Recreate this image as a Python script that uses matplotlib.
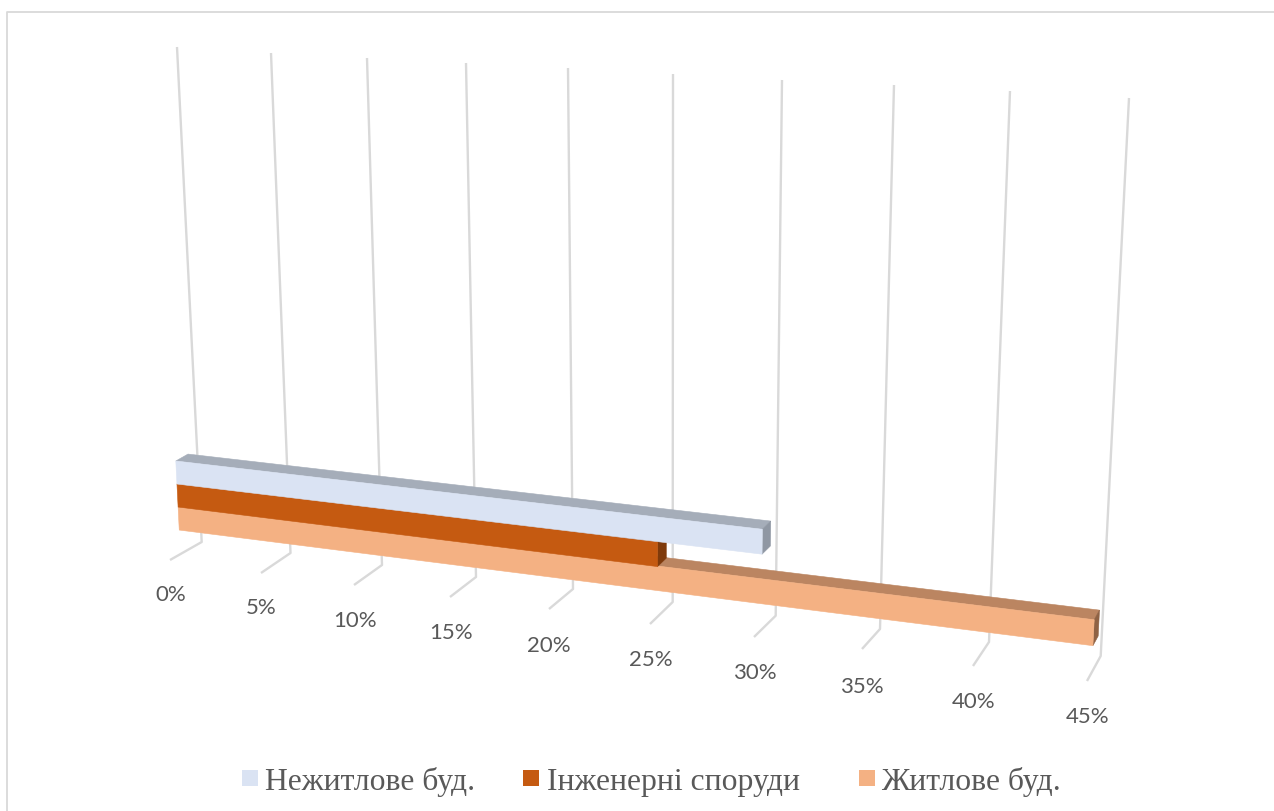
import matplotlib
matplotlib.use('Agg')
import matplotlib.pyplot as plt
from matplotlib.patches import Polygon, Rectangle
import numpy as np

# data
categories = ['Нежитлове буд.', 'Інженерні споруди', 'Житлове буд.']
values = [30, 25, 45]
axis_values = [0, 5, 10, 15, 20, 25, 30, 35, 40, 45]
axis_labels = ['0%', '5%', '10%', '15%', '20%', '25%', '30%', '35%', '40%', '45%']

# colors per series: front, top, side
front_colors = ['#dae3f3', '#c55a11', '#f4b183']
top_colors = ['#a5adb9', '#8a3f0c', '#bb8561']
side_colors = ['#8f97a3', '#7f3a0b', '#8f6244']

# perspective frame of the 3d plot, in pixels, one entry per axis value
wall_top_x = [177, 271, 367, 466, 568, 673, 782, 894, 1010, 1129]
wall_top_y = [48, 54, 59, 64, 69, 75, 81, 86, 92, 99]
floor_x = [201.7, 290.5, 382, 476, 573, 672.7, 775.7, 880, 989, 1100.7]
floor_y = [543, 554, 566, 578, 590, 603, 616.7, 630, 643, 657]
tick_x = [170, 261, 354, 450, 549, 650, 754, 862, 973, 1087]
tick_y = [561, 574, 586, 598, 610, 625, 638, 650, 667, 682]
label_x = [171, 261, 355, 451, 549, 651, 755, 862, 974, 1088]
label_y = [595, 608, 621, 633, 646, 660, 673, 687, 702, 717]

# legend layout, the gaps in the picture are not even
legend_key_x = [242, 523, 859]
legend_text_x = [265, 547, 881]

# bar placement inside the 3d box, as fractions of depth and height
depth_back = 0.285
depth_front = 0.67
height_base = 0.0485
height_bar = 0.0465


def project(value, depth, height):
    fx = np.interp(value, axis_values, floor_x)
    fy = np.interp(value, axis_values, floor_y)
    x = fx + height*(np.interp(value, axis_values, wall_top_x) - fx) + depth*(np.interp(value, axis_values, tick_x) - fx)
    y = fy + height*(np.interp(value, axis_values, wall_top_y) - fy) + depth*(np.interp(value, axis_values, tick_y) - fy)
    return (x, y)


def draw_face(ax, points, color, z):
    ax.add_patch(Polygon(points, closed=True, facecolor=color, edgecolor=color, linewidth=0.4, zorder=z))


fig = plt.figure(figsize=(12.74, 8.12), dpi=100)
ax = fig.add_axes([0, 0, 1, 1])
ax.set_xlim(0, 1274)
ax.set_ylim(812, 0)
ax.axis('off')

# chart border, only left and top are in the picture
ax.plot([7, 7, 1274], [812, 13, 13], color='#d9d9d9', linewidth=1.3, zorder=1)

# gridlines and ticks
for i in range(len(axis_values)):
    ax.plot([wall_top_x[i], floor_x[i], tick_x[i]], [wall_top_y[i], floor_y[i], tick_y[i]],
            color='#d9d9d9', linewidth=1.7, solid_joinstyle='round', solid_capstyle='butt', zorder=2)
    ax.text(label_x[i], label_y[i], axis_labels[i], ha='center', va='center',
            fontsize=16, family='Lato', color='#595959', zorder=2)

# bars are stacked in height, the lowest is drawn first
for i in [2, 1, 0]:
    z = 3 + (2 - i)
    low = height_base + (2 - i)*height_bar
    high = low + height_bar
    v = values[i]
    draw_face(ax, [project(0, depth_front, high), project(0, depth_back, high),
                   project(v, depth_back, high), project(v, depth_front, high)], top_colors[i], z)
    draw_face(ax, [project(v, depth_front, high), project(v, depth_back, high),
                   project(v, depth_back, low), project(v, depth_front, low)], side_colors[i], z)
    draw_face(ax, [project(0, depth_front, high), project(v, depth_front, high),
                   project(v, depth_front, low), project(0, depth_front, low)], front_colors[i], z)

# legend
for i in range(len(categories)):
    ax.add_patch(Rectangle((legend_key_x[i], 771), 15.5, 16, facecolor=front_colors[i], edgecolor='none'))
    ax.text(legend_text_x[i], 790, categories[i], ha='left', va='baseline',
            fontsize=22.8, family='Liberation Serif', color='#595959')

fig.savefig('out.png', dpi=100)
